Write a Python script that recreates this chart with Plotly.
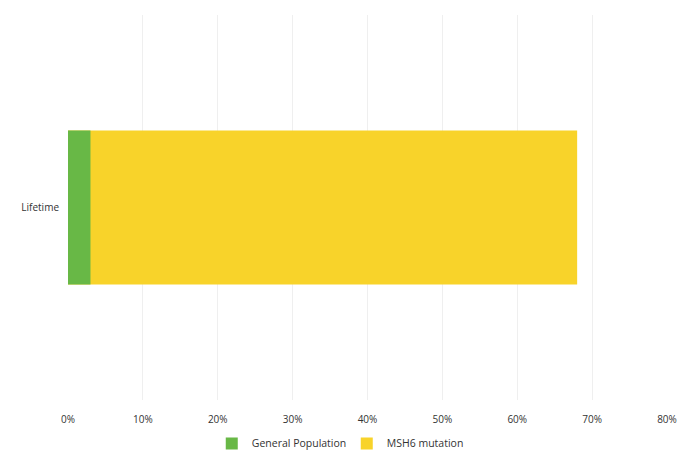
import plotly.graph_objects as go

categories = ["Lifetime"]
general_population = [3]
msh6_mutation = [68]
tick_values = [0, 10, 20, 30, 40, 50, 60, 70, 80]
tick_labels = ["0%", "10%", "20%", "30%", "40%", "50%", "60%", "70%", "80%"]

fig = go.Figure()
fig.add_trace(go.Bar(
    y=categories, x=msh6_mutation, orientation="h", name="MSH6 mutation",
    marker=dict(color="#F8D32A", line=dict(width=0)), width=0.40,
))
fig.add_trace(go.Bar(
    y=categories, x=general_population, orientation="h", name="General Population",
    marker=dict(color="#68B846", line=dict(width=0)), width=0.40,
))

fig.update_layout(
    width=693, height=452,
    margin=dict(l=68, r=26, t=15, b=52, autoexpand=False),
    barmode="overlay",
    paper_bgcolor="white", plot_bgcolor="white",
    font=dict(family="Open Sans", size=10, color="#333333"),
    showlegend=True,
    legend=dict(orientation="h", x=0.24, xanchor="left", y=-0.075, yanchor="top",
                traceorder="reversed", font=dict(size=10.5, color="#333333"),
                entrywidth=90, entrywidthmode="pixels", itemwidth=30),
    xaxis=dict(range=[0, 80], tickvals=tick_values, ticktext=tick_labels,
               showgrid=True, gridcolor="#efefef", gridwidth=1, zeroline=False,
               showline=False, ticks="", tickfont=dict(size=10, color="#333333"),
               ticklabelstandoff=12),
    yaxis=dict(range=[-0.5, 0.5], showgrid=False, zeroline=False, showline=False,
               ticks="", tickfont=dict(size=10, color="#333333"), ticklabelstandoff=8),
)

fig.write_html("out.html")
